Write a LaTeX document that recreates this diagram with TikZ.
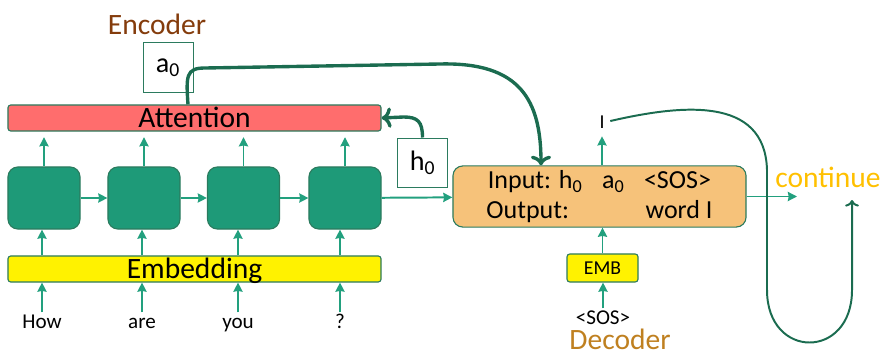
\documentclass[tikz,border=0pt]{standalone}
\usepackage{fontspec}
\setmainfont{Carlito}
\usetikzlibrary{calc, shapes, backgrounds, arrows.meta}

\definecolor{cellgreen}{HTML}{1E9A78}
\definecolor{arrgreen}{HTML}{22A07E}
\definecolor{darkgreen}{HTML}{1B6C50}
\definecolor{rimgreen}{HTML}{2B7B5E}
\definecolor{attred}{HTML}{FF6D6D}
\definecolor{decorange}{HTML}{F6C27A}
\definecolor{encbrown}{HTML}{843C0C}
\definecolor{decgold}{HTML}{BF8020}
\definecolor{contgold}{HTML}{FFC000}

\begin{document}
\begin{tikzpicture}[
                    x=0.025cm, y=-0.025cm,
                    cell/.style={rectangle, draw=rimgreen, fill=cellgreen, rounded corners=7pt, minimum width=1.8cm, minimum height=1.55cm, line width=0.8pt},
                    bar/.style={rectangle, draw=rimgreen, rounded corners=2pt, minimum width=9.325cm, minimum height=0.65cm, inner sep=0pt, text height=14pt, text depth=0pt, font=\fontsize{21}{24}\selectfont, line width=0.8pt},
                    vecbox/.style={rectangle, draw=rimgreen, fill=white, minimum width=1.25cm, minimum height=1.225cm, font=\fontsize{20}{24}\selectfont, line width=0.7pt},
                    decbox/.style={rectangle, draw=rimgreen, fill=decorange, rounded corners=7pt, minimum width=7.325cm, minimum height=1.525cm, align=center, font=\fontsize{18.5}{21}\selectfont, line width=0.8pt},
                    word/.style={inner sep=1pt, text height=10pt, text depth=0pt, anchor=base, font=\fontsize{15}{18}\selectfont},
                    heading/.style={anchor=base, inner sep=0pt, font=\fontsize{21}{24}\selectfont},
                    line/.style={draw=arrgreen, -{Stealth[length=6.5pt, width=6.5pt, inset=0.6pt]}, line width=1.4pt},
                    bigline/.style={draw=darkgreen, ->, line width=2.4pt},
                    loopline/.style={draw=darkgreen, ->, line width=1.4pt}
                ]
                    \useasboundingbox (0,0) rectangle (885,354);

                    % Encoder side
                    \node [heading, text=encbrown] (enc) at (157,35) {Encoder};
                    \node [bar, fill=attred] (att) at (194.5,118) {Attention};
                    \node [cell] (c1) at (44,198) {};
                    \node [cell] (c2) at (144,198) {};
                    \node [cell] (c3) at (243.5,198) {};
                    \node [cell] (c4) at (345,198) {};
                    \node [bar, fill=yellow] (emb) at (194.5,269) {Embedding};

                    \node [word] (w1) at (42,328) {How};
                    \node [word] (w2) at (142,328) {are};
                    \node [word] (w3) at (238,328) {you};
                    \node [word] (w4) at (340,328) {?};

                    \node [vecbox] (a0) at (168,67.5) {a\textsubscript{0}};
                    \node [vecbox] (h0) at (422.5,162.5) {h\textsubscript{0}};

                    % Decoder side
                    \node [decbox] (dec) at (599.5,196.5) {Input: h\textsubscript{0}\hspace{0.75em}a\textsubscript{0}\hspace{0.75em}<SOS>\\ \makebox[5.65cm]{Output:\hfill word I}};
                    \node [rectangle, draw=rimgreen, fill=yellow, rounded corners=2pt, minimum width=1.775cm, minimum height=0.7cm, font=\fontsize{14}{16}\selectfont, line width=0.8pt] (demb) at (602.5,268) {EMB};
                    \node [word] (sos) at (603,324) {<SOS>};
                    \node [heading, text=decgold] (decname) at (620,349) {Decoder};
                    \node [word, font=\fontsize{14}{16}\selectfont] (I) at (602,129) {I};
                    \node [heading, text=contgold] (cont) at (828,187) {continue};
                    \coordinate (outend) at (797,196.5);
                    \coordinate (loopend) at (852,200);

                    % Edges of the encoder
                    \path [line] (c1) -- (c2);
                    \path [line] (c2) -- (c3);
                    \path [line] (c3) -- (c4);
                    \path [line] (c4) -- (dec);
                    \path [line, shorten >=4pt] (c1.north) -- (c1.north |- att.south);
                    \path [line, shorten >=4pt] (c2.north) -- (c2.north |- att.south);
                    \path [line, shorten >=4pt] (c3.north) -- (c3.north |- att.south);
                    \path [line, shorten >=4pt] (c4.north) -- (c4.north |- att.south);
                    \path [line] (w1.north) -- (w1.north |- emb.south);
                    \path [line] (w2.north) -- (w2.north |- emb.south);
                    \path [line] (w3.north) -- (w3.north |- emb.south);
                    \path [line] (w4.north) -- (w4.north |- emb.south);
                    \path [line] (w1.north |- emb.north) -- (w1.north |- c1.south);
                    \path [line] (w2.north |- emb.north) -- (w2.north |- c2.south);
                    \path [line] (w3.north |- emb.north) -- (w3.north |- c3.south);
                    \path [line] (w4.north |- emb.north) -- (w4.north |- c4.south);

                    % Edges of the decoder
                    \path [line] (sos.north) -- (sos.north |- demb.south);
                    \path [line] (demb.north) -- (demb.north |- dec.south);
                    \path [line, shorten >=4pt] (dec.north -| I) -- (I.south);
                    \path [line] (dec.east) -- (outend);

                    % h0 and a0 links
                    \draw [bigline] (h0.north) .. controls +(0,-16) and +(14,0) .. ($(att.east)+(22,-1)$) -- (att.east);
                    \draw [bigline] ($(att.north)+(-6.5,0)$) .. controls (186,76) and (186,68) .. (205,68) -- (440,64) .. controls (520,62) and (541,100) .. ($(dec.north)+(-58.5,0)$);
                    \draw [loopline, shorten <=3pt] (I.east) .. controls (680,105) and (765,95) .. (767,170) -- (767,290) .. controls (767,360) and (852,360) .. (852,290) -- (loopend);
                \end{tikzpicture}
\end{document}
